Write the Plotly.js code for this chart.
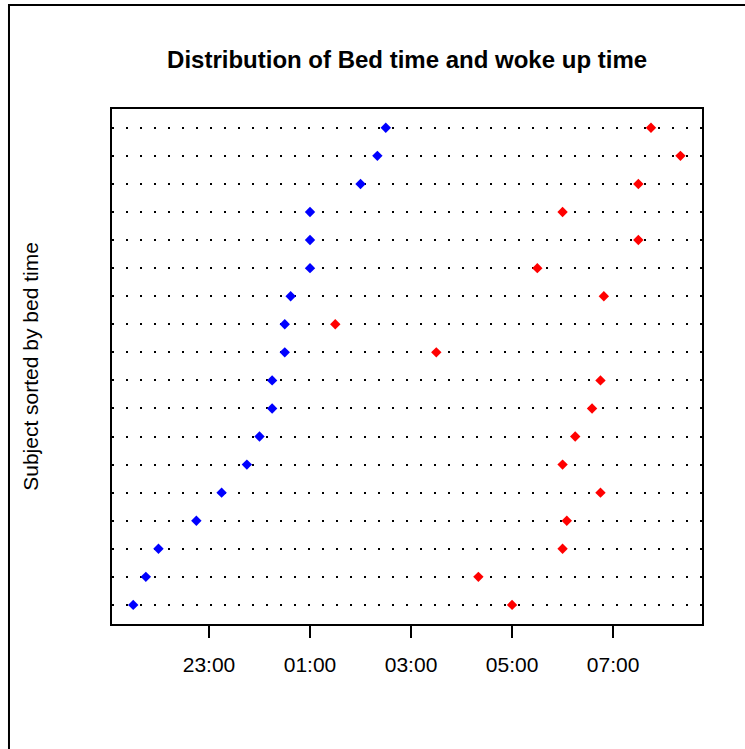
<!DOCTYPE html>
<html>
<head>
<meta charset="utf-8">
<script src="https://cdn.plot.ly/plotly-3.0.1.min.js"></script>
<style>html,body{margin:0;padding:0;background:#fff;}#chart{width:745px;height:749px;}</style>
</head>
<body>
<div id="chart"></div>
<script>
// Subjects sorted by bed time (bottom row = earliest bed time)
const subjects = [1,2,3,4,5,6,7,8,9,10,11,12,13,14,15,16,17,18];
const bedTime  = ["21:30","21:45","22:00","22:45","23:15","23:45","00:00","00:15","00:15","00:30","00:30","00:37","01:00","01:00","01:00","02:00","02:20","02:30"];
const wakeTime = ["05:00","04:20","06:00","06:05","06:45","06:00","06:15","06:35","06:45","03:30","01:30","06:49","05:30","07:30","06:00","07:30","08:20","07:45"];
const tickHours = [23, 25, 27, 29, 31];
const tickLabels = ["23:00","01:00","03:00","05:00","07:00"];

// clock string -> hours on a continuous night axis (after midnight = +24)
function toHours(s){
  const p = s.split(":");
  let h = parseInt(p[0],10) + parseInt(p[1],10)/60;
  if (h < 12) h += 24;
  return h;
}

const FONT = "Liberation Sans, Arial, Helvetica, sans-serif";

const traces = [
  {
    type: "scatter", mode: "markers",
    x: bedTime.map(toHours), y: subjects,
    marker: {symbol: "diamond", size: 8, color: "#0000FF"},
    name: "Bed time", showlegend: false, hoverinfo: "x+y"
  },
  {
    type: "scatter", mode: "markers",
    x: wakeTime.map(toHours), y: subjects,
    marker: {symbol: "diamond", size: 8, color: "#FF0000"},
    name: "Woke up time", showlegend: false, hoverinfo: "x+y"
  }
];

const layout = {
  width: 745, height: 749,
  paper_bgcolor: "#ffffff", plot_bgcolor: "#ffffff",
  margin: {l: 112, r: 43, t: 109, b: 125, pad: 0},
  font: {family: FONT, color: "#000000"},
  title: {
    text: "<b>Distribution of Bed time and woke up time</b>",
    font: {family: FONT, size: 24, color: "#000000"},
    x: 0.5464, xanchor: "center", xref: "container",
    y: 0.92, yanchor: "middle", yref: "container"
  },
  xaxis: {
    range: [21.08, 32.76],
    tickmode: "array", tickvals: tickHours, ticktext: tickLabels,
    ticks: "outside", ticklen: 12, tickwidth: 2, tickcolor: "#000000",
    ticklabelstandoff: 9,
    tickfont: {family: FONT, size: 21, color: "#000000"},
    showgrid: false, zeroline: false,
    showline: true, linecolor: "#000000", linewidth: 2, mirror: true,
    automargin: false
  },
  yaxis: {
    range: [0.32, 18.67],
    tickmode: "array", tickvals: subjects, showticklabels: false, ticks: "",
    showgrid: true, gridcolor: "#000000", gridwidth: 2, griddash: "2px,12px",
    zeroline: false,
    showline: true, linecolor: "#000000", linewidth: 2, mirror: true,
    automargin: false,
    title: {text: "Subject sorted by bed time", font: {family: FONT, size: 21, color: "#000000"}, standoff: 66}
  },
  shapes: [
    {type: "rect", xref: "paper", yref: "paper",
     x0: -0.1746, x1: 2, y0: -2, y1: 1.2019,
     line: {color: "#000000", width: 2}, fillcolor: "rgba(0,0,0,0)", layer: "above"}
  ]
};

Plotly.newPlot("chart", traces, layout, {displayModeBar: false, staticPlot: true});
</script>
</body>
</html>
